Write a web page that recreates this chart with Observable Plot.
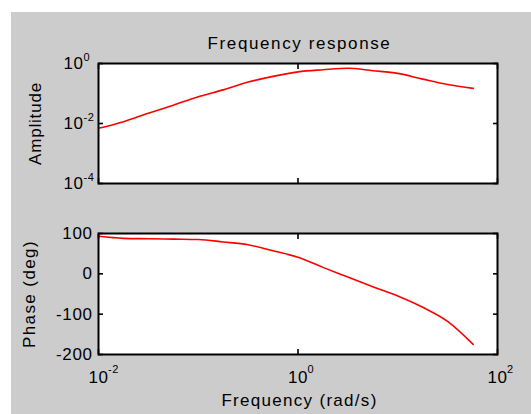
<!DOCTYPE html>
<html><head><meta charset="utf-8">
<script src="https://cdn.jsdelivr.net/npm/d3@7"></script>
<script src="https://cdn.jsdelivr.net/npm/@observablehq/plot@0.6"></script>
<style>
html,body{margin:0;padding:0;background:#fff;}
#fig{position:absolute;left:11px;top:12px;width:520px;height:402px;background:#cccccc;}
#topPlot,#botPlot{position:absolute;left:0;}
#topPlot{top:0px} #botPlot{top:200px}
svg text{letter-spacing:0.6px;}
</style></head><body>
<div id="fig"></div>
<div id="topPlot"></div><div id="botPlot"></div>
<script>
// Data
const freq      = [0.01, 0.0178, 0.0316, 0.0562, 0.1, 0.178, 0.316, 0.562, 1, 1.78, 3.16, 5.62, 10, 17.8, 31.6, 57];
const amplitude = [0.0069, 0.0115, 0.0219, 0.0407, 0.0776, 0.132, 0.24, 0.372, 0.525, 0.617, 0.692, 0.575, 0.468, 0.302, 0.20, 0.148];
const phase     = [93, 88, 87, 86, 85, 79, 72, 57, 41, 16, -8, -32, -55, -83, -118, -175];
const xTicks = [0.01, 1, 100];
const ampTicks = [1e-4, 1e-2, 1];
const phaseTicks = [-200, -100, 0, 100];
const titleText = "Frequency response";
const ampLabel = "Amplitude";
const phaseLabel = "Phase (deg)";
const xLabel = "Frequency (rad/s)";

const data = freq.map((f, i) => ({f, amp: amplitude[i], ph: phase[i]}));
const expo = d => String(Math.round(Math.log10(d)));
const font = "'Liberation Sans', Arial, sans-serif";
const style = {background: "transparent", fontFamily: font, fontSize: "17px", color: "black", overflow: "visible"};
const W = 531;

const topChart = Plot.plot({
  width: W, height: 200,
  marginLeft: 98, marginRight: 34, marginTop: 63, marginBottom: 17,
  style,
  x: {type: "log", domain: [0.01, 100]},
  y: {type: "log", domain: [1e-4, 1]},
  marks: [
    Plot.frame({fill: "white", stroke: null}),
    Plot.line(data, {x: "f", y: "amp", stroke: "#ff0000", strokeWidth: 1.6, curve: "monotone-x"}),
    Plot.frame({stroke: "black", strokeWidth: 2}),
    Plot.axisY(ampTicks, {anchor: "left", tickSize: 0, tickPadding: 15, tickFormat: () => "10", label: null, fontSize: 17}),
    Plot.text(ampTicks, {y: d => d, frameAnchor: "left", text: expo, textAnchor: "start", dx: -15, dy: -6.5, fontSize: 11}),
    Plot.axisY(ampTicks, {anchor: "left", tickSize: 5, dx: 5, tickFormat: () => "", label: null, strokeWidth: 1.6}),
    Plot.axisY(ampTicks, {anchor: "right", tickSize: 5, dx: -5, tickFormat: () => "", label: null, strokeWidth: 1.6}),
    Plot.axisX(xTicks, {anchor: "bottom", tickSize: 5, dy: -5, tickFormat: () => "", label: null, strokeWidth: 1.6}),
    Plot.axisX(xTicks, {anchor: "top", tickSize: 5, dy: 5, tickFormat: () => "", label: null, strokeWidth: 1.6}),
    Plot.text([titleText], {frameAnchor: "top", textAnchor: "middle", lineAnchor: "bottom", dy: -15, dx: 1.5, fontSize: 17}),
    Plot.text([ampLabel], {frameAnchor: "left", textAnchor: "middle", lineAnchor: "middle", rotate: -90, dx: -62.5, fontSize: 17})
  ]
});
document.getElementById("topPlot").append(topChart);

const botChart = Plot.plot({
  width: W, height: 214,
  marginLeft: 98, marginRight: 34, marginTop: 33, marginBottom: 60,
  style,
  x: {type: "log", domain: [0.01, 100]},
  y: {domain: [-200, 100]},
  marks: [
    Plot.frame({fill: "white", stroke: null}),
    Plot.line(data, {x: "f", y: "ph", stroke: "#ff0000", strokeWidth: 1.6, curve: "monotone-x"}),
    Plot.frame({stroke: "black", strokeWidth: 2}),
    Plot.axisY(phaseTicks, {anchor: "left", tickSize: 0, tickPadding: 6, tickFormat: d => String(d), label: null, fontSize: 17}),
    Plot.axisY(phaseTicks, {anchor: "left", tickSize: 5, dx: 5, tickFormat: () => "", label: null, strokeWidth: 1.6}),
    Plot.axisY(phaseTicks, {anchor: "right", tickSize: 5, dx: -5, tickFormat: () => "", label: null, strokeWidth: 1.6}),
    Plot.axisX(xTicks, {anchor: "bottom", tickSize: 5, dy: -5, tickFormat: () => "", label: null, strokeWidth: 1.6}),
    Plot.axisX(xTicks, {anchor: "top", tickSize: 5, dy: 5, tickFormat: () => "", label: null, strokeWidth: 1.6}),
    Plot.axisX(xTicks, {anchor: "bottom", tickSize: 0, tickPadding: 16, tickFormat: () => "10", label: null, fontSize: 17}),
    Plot.text(xTicks, {x: d => d, frameAnchor: "bottom", text: expo, textAnchor: "start", lineAnchor: "bottom", dx: 9.5, dy: 18, fontSize: 11}),
    Plot.text([phaseLabel], {frameAnchor: "left", textAnchor: "middle", lineAnchor: "middle", rotate: -90, dx: -68.5, fontSize: 17}),
    Plot.text([xLabel], {frameAnchor: "bottom", textAnchor: "middle", lineAnchor: "bottom", dy: 51, dx: 1.5, fontSize: 17})
  ]
});
document.getElementById("botPlot").append(botChart);

// wider letter spacing for titles/labels (MATLAB-style rendering)
const spacing = {[titleText]: "1.6px", [xLabel]: "1.3px", [ampLabel]: "0.8px", [phaseLabel]: "1.4px"};
for (const t of document.querySelectorAll("svg text")) {
  if (spacing[t.textContent]) t.style.letterSpacing = spacing[t.textContent];
}
</script>
</body></html>
